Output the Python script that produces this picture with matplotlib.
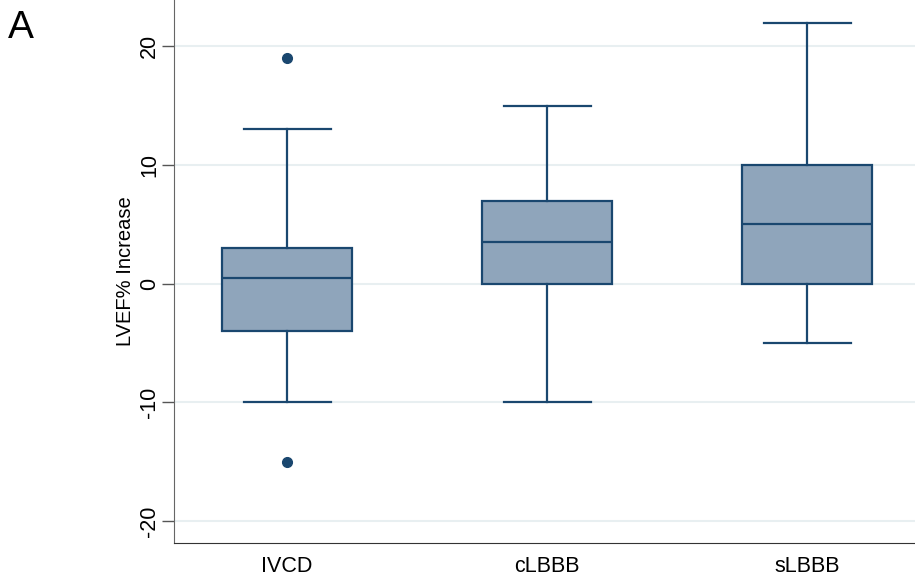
import matplotlib
matplotlib.use("Agg")
import matplotlib.pyplot as plt

plt.rcParams["font.family"] = ["Liberation Sans", "DejaVu Sans"]

# box statistics
groups = ["IVCD", "cLBBB", "sLBBB"]
q1 = [-4, 0, 0]
medians = [0.5, 3.5, 5]
q3 = [3, 7, 10]
whislo = [-10, -10, -5]
whishi = [13, 15, 22]
outliers = [[19, -15], [], []]
yticks = [-20, -10, 0, 10, 20]

navy = "#1a476f"
fill = "#8fa5bb"

stats = []
for i, g in enumerate(groups):
    stats.append(dict(label=g, q1=q1[i], med=medians[i], q3=q3[i],
                      whislo=whislo[i], whishi=whishi[i], fliers=outliers[i]))

fig = plt.figure(figsize=(9.15, 5.78), dpi=100)
ax = fig.add_axes([174 / 915, 35 / 578, 741 / 915, 543 / 578])

for y in yticks:
    ax.axhline(y, color="#e8eff1", lw=1.5, zorder=0)

ax.bxp(stats, positions=[1, 2, 3], widths=0.5, patch_artist=True,
       boxprops=dict(facecolor=fill, edgecolor=navy, linewidth=1.6),
       medianprops=dict(color=navy, linewidth=1.6),
       whiskerprops=dict(color=navy, linewidth=1.6),
       capprops=dict(color=navy, linewidth=1.6),
       capwidths=0.335,
       flierprops=dict(marker="o", markerfacecolor=navy, markeredgecolor=navy,
                       markersize=7))

ax.set_xlim(0.565, 3.415)
ax.set_ylim(-21.85, 23.9)
ax.set_yticks(yticks)
ax.set_yticklabels([str(t) for t in yticks], rotation=90, va="center", fontsize=15.5)
ax.tick_params(axis="y", length=9, width=1, color="#555555", pad=1)
ax.tick_params(axis="x", length=0, labelsize=15.5, pad=9)
ax.set_ylabel("LVEF% Increase", fontsize=14.5, labelpad=3)

for s in ["top", "right"]:
    ax.spines[s].set_visible(False)
ax.spines["left"].set_color("#666666")
ax.spines["bottom"].set_color("#333333")

fig.text(8 / 915, 1 - 38 / 578, "A", fontsize=28)

fig.savefig("out.png", dpi=100)
